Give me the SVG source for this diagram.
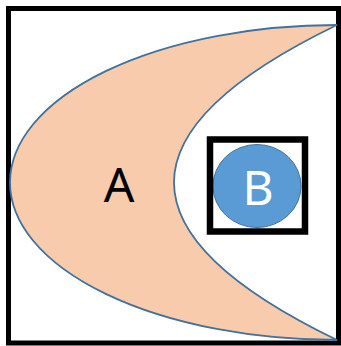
<svg xmlns="http://www.w3.org/2000/svg" width="341" height="346" viewBox="0 0 341 346">
<style>
.lbl{font-family:"Noto Sans","Open Sans","Liberation Sans",sans-serif;font-size:48px;text-anchor:middle}
</style>
<rect width="341" height="346" fill="#fff"/>
<g id="frame"><rect x="8.5" y="8.5" width="330" height="334.5" fill="none" stroke="#000" stroke-width="5"/></g>
<g id="A">
<path d="M337 25 A327 157.5 0 0 0 337 340 Q11 182.5 337 25 Z" fill="#F8CBAD" stroke="#41719C" stroke-width="1.8"/>
<text class="lbl" x="119" y="202" fill="#000">A</text>
</g>
<g id="B">
<ellipse cx="257" cy="186" rx="44" ry="41.5" fill="#5B9BD5" stroke="#41719C" stroke-width="1"/>
<rect x="210" y="139.5" width="95" height="92" fill="none" stroke="#000" stroke-width="6.5"/>
<text class="lbl" x="258" y="205" fill="#fff">B</text>
</g>
<g id="connectors"/>
</svg>
